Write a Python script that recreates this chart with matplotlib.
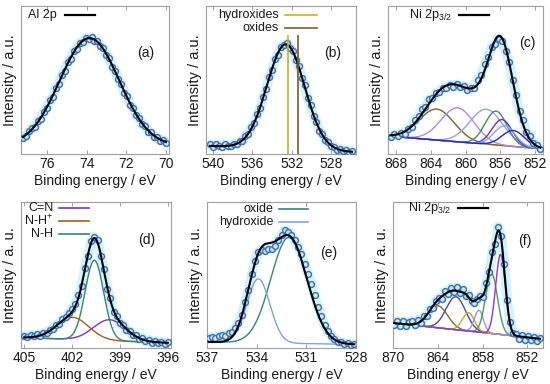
import numpy as np
import matplotlib
matplotlib.use('Agg')
import matplotlib.pyplot as plt

# ── Datos (intensidad en unidades arbitrarias) ────────────────────────────────

# (a) Al 2p
a_int = [16.5, 18.2, 22.9, 25.6, 27.2, 33.1, 35.5, 42.4, 45.8, 53.6, 57.4, 66.1, 70.2,
         79.3, 83.5, 91.8, 95.2, 102.9, 105.4, 111.3, 112.2, 116.1, 114.8, 116.9, 113.6,
         113.0, 108.1, 105.8, 99.1, 95.6, 87.4, 83.3, 74.6, 70.2, 61.5, 57.6, 49.3, 45.9,
         38.6, 35.8, 29.6, 27.8, 22.5, 21.7, 17.2, 17.1, 13.4, 13.8, 11.2]
a_range = (77.2, 70.0)
a_cent, a_sig, a_amp = [73.85], [1.5], [108]
a_bg = ([70.0, 77.2], [8, 8])

# (b) O 1s
b_int = [9.5, 7.2, 9.8, 8.4, 7.1, 9.6, 8.3, 7.9, 10.4, 9.6, 12.8, 13.1, 17.9, 19.8, 26.7,
         30.6, 39.9, 45.8, 57.4, 64.6, 77.1, 83.9, 95.0, 99.5, 107.6, 109.2, 111.0, 106.2,
         103.5, 94.1, 88.3, 76.0, 68.9, 56.2, 49.0, 37.8, 32.4, 23.5, 20.1, 13.6, 12.2, 7.6,
         7.3, 4.2, 5.0, 2.6, 3.6, 1.8, 2.9]
b_range = (540.3, 525.9)
b_cent, b_sig, b_amp = [532.6], [1.9], [105]
b_bg = ([525.9, 540.3], [2, 8])
b_marks = [532.43, 531.42]          # hydroxides, oxides
b_mark_top = 119

# (c) Ni 2p3/2
c_int = [17.2, 19.6, 18.1, 21.3, 20.2, 25.1, 27.0, 34.4, 38.1, 45.2, 47.0, 54.6, 56.1,
         61.4, 62.2, 66.3, 66.1, 69.4, 67.5, 69.8, 67.1, 68.2, 64.4, 66.3, 66.0, 74.5,
         79.1, 89.6, 96.8, 107.4, 110.2, 115.6, 113.1, 102.8, 92.3, 73.9, 59.4, 42.8,
         34.1, 21.9, 17.8, 11.0, 8.9, 5.2]
c_range = (868.6, 851.4)
c_cent = [863.3, 860.9, 857.6, 856.5, 855.8, 855.5, 854.5]
c_sig = [2.0, 1.9, 1.9, 1.25, 1.15, 1.2, 1.3]
c_amp = [31, 34, 35, 34, 26, 20, 16]
c_bg = ([851.1, 868.9], [5, 18])

# (d) N 1s
d_int = [12.1, 11.4, 13.0, 11.9, 13.5, 12.2, 14.9, 15.4, 18.1, 19.0, 23.3, 24.1, 28.5,
         31.4, 34.9, 38.6, 44.0, 52.7, 61.8, 80.2, 92.1, 107.3, 111.5, 108.2, 92.0, 78.9,
         59.4, 49.6, 36.2, 31.8, 24.7, 23.1, 17.5, 17.2, 12.6, 12.9, 9.1, 10.3, 6.8, 8.4,
         5.1, 7.2, 4.6, 6.1, 4.0, 5.5]
d_range = (405.0, 396.0)
d_labels = ['C=N', 'N-H$^{+}$', 'N-H']
d_cent = [399.65, 401.95, 400.6]
d_sig = [1.0, 1.0, 0.58]
d_amp = [21, 22, 80]
d_bg = ([395.8, 405.2], [5, 10.5])

# (e) O 1s
e_int = [9.5, 10.8, 9.9, 11.5, 12.8, 12.1, 14.6, 16.3, 19.8, 25.4, 33.0, 46.2, 57.8,
         74.1, 86.9, 96.3, 98.2, 97.4, 99.1, 98.6, 101.9, 108.3, 113.4, 117.6, 116.2,
         113.0, 107.9, 101.3, 93.6, 84.2, 74.0, 64.1, 52.6, 41.5, 31.9, 22.8, 17.0, 11.9,
         9.4, 6.3, 5.8, 3.9, 4.7, 3.2, 4.1]
e_range = (536.9, 528.1)
e_labels = ['oxide', 'hydroxide']
e_cent = [532.05, 533.9]
e_sig = [1.1, 0.7]
e_amp = [106, 64]
e_bg = ([528.0, 537.0], [3.5, 6])

# (f) Ni 2p3/2
f_int = [23.1, 27.0, 22.4, 26.8, 21.5, 25.9, 27.2, 22.8, 28.1, 25.0, 31.6, 32.2, 39.5,
         40.3, 46.8, 50.1, 49.4, 56.6, 54.0, 59.8, 56.2, 61.0, 55.4, 58.6, 52.1, 53.3,
         47.0, 45.1, 49.0, 51.8, 51.5, 65.0, 76.1, 95.8, 104.2, 121.5, 112.4, 83.6, 47.9,
         26.1, 15.2, 13.8, 9.4, 12.9, 8.1, 11.8, 7.6, 10.9, 6.8, 10.3]
f_range = (869.9, 850.3)
f_cent = [864.0, 861.6, 859.9, 858.5, 856.8, 855.6]
f_sig = [1.3, 1.3, 0.8, 0.6, 0.8, 0.65]
f_amp = [22, 33, 18.4, 22, 60, 80]
f_bg = ([850.0, 870.0], [9, 25])

# ── Estilo ────────────────────────────────────────────────────────────────────

plt.rcParams.update({
    'font.family': 'Liberation Sans',
    'font.size': 10,
    'mathtext.fontset': 'custom',
    'mathtext.rm': 'Liberation Sans',
    'mathtext.it': 'Liberation Sans:italic',
    'text.color': '#1a1a1a',
    'axes.labelcolor': '#1a1a1a',
    'axes.labelsize': 10.5,
    'axes.edgecolor': '#a0a0a0',
    'axes.linewidth': 0.8,
    'xtick.direction': 'in',
    'xtick.top': True,
    'xtick.major.size': 3,
    'xtick.major.width': 0.6,
    'xtick.color': '#909090',
    'xtick.labelcolor': '#1a1a1a',
    'xtick.major.pad': 2.5,
    'xtick.labelsize': 10,
})

C_DATA = '#3a6db4'
C_HALO = '#c2eff9'
C_FIT = 'black'


def gauss(x, c, s, h):
    return h * np.exp(-(x - c) ** 2 / (2 * s ** 2))


def spectrum(ax, rng, counts, cent, sig, amp, bg, cols=None, bg_col=None):
    e = np.linspace(rng[0], rng[1], len(counts))
    x = np.linspace(rng[1], rng[0], 600)
    base = np.interp(x, bg[0], bg[1])
    total = base.copy()
    if bg_col:
        ax.plot(x, base, color=bg_col, lw=1.0, zorder=2)
    for k, (c, s, h) in enumerate(zip(cent, sig, amp)):
        g = gauss(x, c, s, h)
        total += g
        if cols:
            ax.plot(x, base + g, color=cols[k], lw=1.0, zorder=2)
    ax.plot(e, counts, color=C_HALO, lw=7, alpha=0.75, zorder=1, solid_capstyle='round')
    ax.plot(e, counts, 'o', ms=4.2, mfc='#c6ecf7', mec=C_DATA, mew=1.0, zorder=3)
    ax.plot(x, total, color=C_FIT, lw=1.5, zorder=4)


def key(ax, entries, xt, x0, x1, y0, dy=0.09):
    for k, (lab, col) in enumerate(entries):
        y = y0 - k * dy
        ax.text(xt, y, lab, transform=ax.transAxes, ha='right', va='center', fontsize=9)
        ax.plot([x0, x1], [y, y], transform=ax.transAxes, color=col,
                lw=1.6 if col == 'black' else 1.2, clip_on=False)


def frame(ax, xlim, ticks, ylim, ylabel, tag, tx, ty):
    ax.set_xlim(*xlim)
    ax.set_ylim(0, ylim)
    ax.set_xticks(ticks)
    ax.set_yticks([])
    ax.set_xlabel('Binding energy / eV', labelpad=1.5, fontsize=10)
    ax.set_ylabel(ylabel, labelpad=3)
    ax.text(tx, ty, tag, transform=ax.transAxes, ha='center', va='center', fontsize=10)


fig = plt.figure(figsize=(5.5, 3.84), dpi=100)
ax_a = fig.add_axes([0.0382, 0.599, 0.269, 0.385])
ax_b = fig.add_axes([0.3745, 0.599, 0.2727, 0.385])
ax_c = fig.add_axes([0.7055, 0.599, 0.2818, 0.385])
ax_d = fig.add_axes([0.0382, 0.0938, 0.2727, 0.380])
ax_e = fig.add_axes([0.3764, 0.0938, 0.2709, 0.380])
ax_f = fig.add_axes([0.7145, 0.0938, 0.2727, 0.380])

# (a)
spectrum(ax_a, a_range, a_int, a_cent, a_sig, a_amp, a_bg)
frame(ax_a, (77.3, 69.85), [76, 74, 72, 70], 148, 'Intensity / a.u.', '(a)', 0.84, 0.68)
key(ax_a, [('Al 2p', C_FIT)], 0.24, 0.30, 0.50, 0.94)

# (b)
C_HYD, C_OX = '#c4b22a', '#8a5526'
ax_b.vlines(b_marks, 0, b_mark_top, colors=[C_HYD, C_OX], lw=1.2, zorder=5)
spectrum(ax_b, b_range, b_int, b_cent, b_sig, b_amp, b_bg)
frame(ax_b, (540.7, 525.5), [540, 536, 532, 528], 148, 'Intensity / a.u.', '(b)', 0.847, 0.68)
key(ax_b, [('hydroxides', C_HYD), ('oxides', C_OX)], 0.487, 0.527, 0.738, 0.94)

# (c)
c_cols = ['#8a5e22', '#b585e6', '#9d9de6', '#4a8c5c', '#6d2ed0', '#7db0e2', '#2424d0']
spectrum(ax_c, c_range, c_int, c_cent, c_sig, c_amp, c_bg, c_cols, bg_col='#c8bb2a')
frame(ax_c, (868.9, 851.1), [868, 864, 860, 856, 852], 148, 'Intensity / a.u.', '(c)', 0.9, 0.75)
key(ax_c, [('Ni 2p$_{3/2}$', C_FIT)], 0.415, 0.46, 0.65, 0.94)

# (d)
d_cols = ['#7a2fd6', '#b0581c', '#2f8a6c']
spectrum(ax_d, d_range, d_int, d_cent, d_sig, d_amp, d_bg, d_cols)
frame(ax_d, (405.2, 395.8), [405, 402, 399, 396], 146, 'Intensity / a. u.', '(d)', 0.84, 0.74)
key(ax_d, list(zip(d_labels, d_cols)), 0.215, 0.25, 0.45, 0.96)

# (e)
e_cols = ['#2f8a6c', '#7ea2e2']
spectrum(ax_e, e_range, e_int, e_cent, e_sig, e_amp, e_bg, e_cols)
frame(ax_e, (537.0, 528.0), [537, 534, 531, 528], 146, 'Intensity / a. u.', '(e)', 0.815, 0.65)
key(ax_e, list(zip(e_labels, e_cols)), 0.445, 0.48, 0.68, 0.955, dy=0.095)

# (f)
f_cols = ['#7c7424', '#4c4ca2', '#d4a22a', '#9a92e6', '#4c9c5c', '#9a32e2']
spectrum(ax_f, f_range, f_int, f_cent, f_sig, f_amp, f_bg, f_cols, bg_col='#b8a83a')
frame(ax_f, (870.05, 849.9), [870, 864, 858, 852], 146, 'Intensity / a. u.', '(f)', 0.88, 0.73)
key(ax_f, [('Ni 2p$_{3/2}$', C_FIT)], 0.39, 0.435, 0.635, 0.96)

fig.savefig('out.png', dpi=100)
plt.close(fig)
